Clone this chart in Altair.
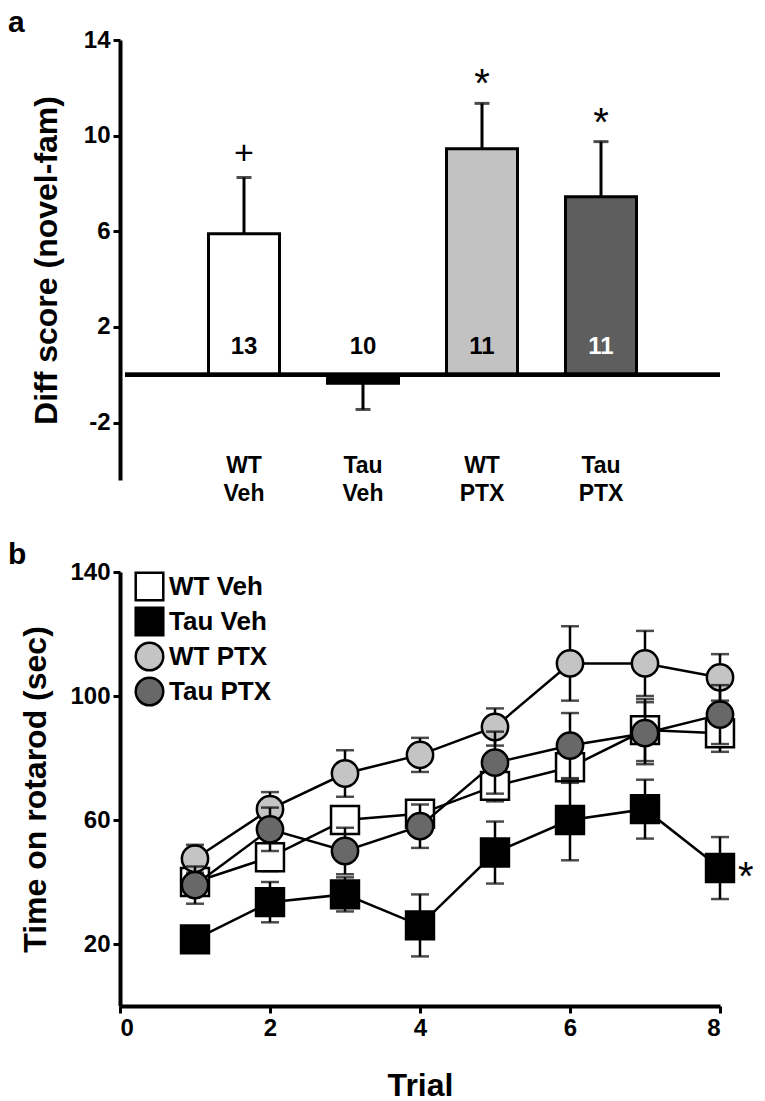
import altair as alt
import pandas as pd

NARROW = "Liberation Sans Narrow, Arial Narrow, Liberation Sans, Arial, sans-serif"
WIDE = "Liberation Sans, Arial, sans-serif"

# ---------------- Panel a data ----------------
groups = ["WT Veh", "Tau Veh", "WT PTX", "Tau PTX"]
group_labels = ["WT\nVeh", "Tau\nVeh", "WT\nPTX", "Tau\nPTX"]
group_pos = [1, 2, 3, 4]
diff_mean = [5.9, -0.35, 9.45, 7.45]
diff_sem = [2.35, 1.1, 1.9, 2.3]
n_animals = ["13", "10", "11", "11"]
signif = ["+", "", "*", "*"]
bar_fill = ["#ffffff", "#000000", "#c2c2c2", "#5e5e5e"]
n_color = ["#000000", "#000000", "#000000", "#ffffff"]

# ---------------- Panel b data ----------------
trials = [1, 2, 3, 4, 5, 6, 7, 8]
series_names = ["WT Veh", "Tau Veh", "WT PTX", "Tau PTX"]
series_fill = ["#ffffff", "#000000", "#c4c4c4", "#686868"]
series_shape = ["square", "square", "circle", "circle"]
wt_veh = [40, 48, 60, 62, 71, 77, 89, 88]
wt_veh_sem = [3, 4.5, 4, 3.5, 5, 5, 10, 6]
tau_veh = [21.5, 33.5, 36, 26, 49.5, 60, 63.5, 44.5]
tau_veh_sem = [2, 6.5, 5.5, 10, 10, 13, 9.5, 10]
wt_ptx = [47.5, 63.5, 75, 81, 90, 110.5, 110.5, 106]
wt_ptx_sem = [4.5, 5.5, 7.5, 5.5, 6, 12, 10.5, 7.5]
tau_ptx = [39, 57, 50, 58, 78.5, 84, 88, 94]
tau_ptx_sem = [6, 7, 7.5, 7, 10, 10.5, 10, 9.5]
final_signif = "*"

# ---------------- Panel a chart ----------------
da = pd.DataFrame({
    "group": groups, "label": group_labels, "pos": group_pos,
    "mean": diff_mean, "sem": diff_sem, "n": n_animals, "sig": signif,
    "fill": bar_fill, "ncolor": n_color,
})
da["err_end"] = [m + s if m >= 0 else m - s for m, s in zip(da["mean"], da["sem"])]
da["sig_y"] = da["err_end"] + 1.0
da["n_y"] = 1.15
da["lab_y"] = -3.35
da["zero"] = 0.0
da["x0"] = 0.0
da["x1"] = 5.0

xa = alt.X("pos:Q", scale=alt.Scale(domain=[0, 5], nice=False), axis=None)
ya_scale = alt.Scale(domain=[-4.4, 14], nice=False, zero=False)
ya_axis = alt.Axis(values=[-2, 2, 6, 10, 14], title="Diff score (novel-fam)", titlePadding=20,
                   labelExpr="toString(datum.value)")

base_a = alt.Chart(da)

err_a = base_a.mark_rule(color="black", strokeWidth=3).encode(
    x=xa, y=alt.Y("mean:Q", scale=ya_scale, axis=ya_axis), y2="err_end:Q")
cap_a = base_a.mark_tick(color="black", thickness=3, size=15, orient="horizontal").encode(
    x=xa, y=alt.Y("err_end:Q", scale=ya_scale, axis=ya_axis))
bars_a = base_a.mark_bar(size=71, stroke="black", strokeWidth=3).encode(
    x=xa,
    y=alt.Y("mean:Q", scale=ya_scale, axis=ya_axis),
    y2="zero:Q",
    fill=alt.Fill("fill:N", scale=None),
)
zero_a = base_a.mark_rule(color="black", strokeWidth=4).encode(
    x=alt.X("x0:Q", scale=alt.Scale(domain=[0, 5], nice=False), axis=None), x2="x1:Q",
    y=alt.Y("zero:Q", scale=ya_scale, axis=ya_axis))
n_a = base_a.mark_text(font=NARROW, fontWeight="bold", fontSize=24, baseline="middle").encode(
    x=xa, y=alt.Y("n_y:Q", scale=ya_scale, axis=ya_axis), text="n:N",
    color=alt.Color("ncolor:N", scale=None))
plus_a = base_a.transform_filter(alt.datum.sig == "+").mark_text(
    font=WIDE, fontSize=34, baseline="middle", color="black").encode(
    x=xa, y=alt.Y("sig_y:Q", scale=ya_scale, axis=ya_axis), text="sig:N")
star_a = base_a.transform_filter(alt.datum.sig == "*").mark_text(
    font=WIDE, fontSize=40, baseline="middle", dy=6, color="black").encode(
    x=xa, y=alt.Y("sig_y:Q", scale=ya_scale, axis=ya_axis), text="sig:N")
lab_a = base_a.mark_text(font=NARROW, fontWeight="bold", fontSize=23, baseline="top",
                         lineBreak="\n", lineHeight=28, color="black").encode(
    x=xa, y=alt.Y("lab_y:Q", scale=ya_scale, axis=ya_axis), text="label:N")

panel_a = alt.layer(err_a, cap_a, bars_a, zero_a, n_a, plus_a, star_a, lab_a).properties(
    width=605, height=440,
    title=alt.TitleParams("a", anchor="start", frame="group", dx=-112, offset=-10,
                          fontSize=30, font=WIDE, fontWeight="bold"),
)

# ---------------- Panel b chart ----------------
means = [wt_veh, tau_veh, wt_ptx, tau_ptx]
sems = [wt_veh_sem, tau_veh_sem, wt_ptx_sem, tau_ptx_sem]
rows = []
for name, m, s in zip(series_names, means, sems):
    for t, v, e in zip(trials, m, s):
        rows.append({"series": name, "trial": t, "value": v, "lo": v - e, "hi": v + e,
                     "sig": final_signif if (name == "Tau Veh" and t == trials[-1]) else ""})
db = pd.DataFrame(rows)

xb = alt.X("trial:Q", scale=alt.Scale(domain=[0, 8], nice=False),
           axis=alt.Axis(values=[0, 2, 4, 6, 8], title="Trial", titlePadding=30))
yb_scale = alt.Scale(domain=[0, 140], nice=False)
yb_axis = alt.Axis(values=[20, 60, 100, 140], title="Time on rotarod (sec)", titlePadding=17)
fill_scale = alt.Scale(domain=series_names, range=series_fill)
shape_scale = alt.Scale(domain=series_names, range=series_shape)
# legend of the vconcat is positioned from the first panel's plot origin
leg = alt.Legend(title=None, orient="none", legendX=14, legendY=531,
                 symbolSize=760, symbolStrokeColor="black",
                 symbolStrokeWidth=2.5, labelFont=NARROW,
                 labelFontWeight="bold", labelFontSize=26,
                 labelColor="black", rowPadding=-7, labelOffset=4)

layers_b = []
for i, name in enumerate(series_names):
    sb = alt.Chart(db).transform_filter(alt.datum.series == name)
    y_lo = alt.Y("lo:Q", scale=yb_scale, axis=yb_axis)
    layers_b.append(sb.mark_rule(color="black", strokeWidth=2.5).encode(
        x=xb, y=y_lo, y2="hi:Q"))
    layers_b.append(sb.mark_tick(color="black", thickness=2.5, size=18, orient="horizontal").encode(
        x=xb, y=y_lo))
    layers_b.append(sb.mark_tick(color="black", thickness=2.5, size=18, orient="horizontal").encode(
        x=xb, y=alt.Y("hi:Q", scale=yb_scale, axis=yb_axis)))
    layers_b.append(sb.mark_line(color="black", strokeWidth=2.5).encode(
        x=xb, y=alt.Y("value:Q", scale=yb_scale, axis=yb_axis)))
    layers_b.append(sb.mark_point(filled=True, opacity=1, stroke="black", strokeWidth=2.5,
                                  size=780 if series_shape[i] == "square" else 690).encode(
        x=xb, y=alt.Y("value:Q", scale=yb_scale, axis=yb_axis),
        fill=alt.Fill("series:N", scale=fill_scale, legend=leg),
        shape=alt.Shape("series:N", scale=shape_scale, legend=None),
    ))

sig_b = alt.Chart(db).mark_text(font=WIDE, fontSize=40, align="left", baseline="middle",
                                dx=18, dy=10, color="black").encode(
    x=xb, y=alt.Y("value:Q", scale=yb_scale, axis=yb_axis), text="sig:N")
layers_b.append(sig_b)

panel_b = alt.layer(*layers_b).properties(
    width=600, height=434,
    title=alt.TitleParams("b", anchor="start", frame="group", dx=-112, offset=-10,
                          fontSize=30, font=WIDE, fontWeight="bold"),
)

chart = alt.vconcat(panel_a, panel_b, spacing=34).properties(padding=0).configure_view(
    strokeWidth=0
).configure_axis(
    domainColor="black", domainWidth=4, tickColor="black", tickWidth=3, tickSize=7,
    labelFont=NARROW, labelFontWeight="bold", labelFontSize=24, labelColor="black",
    labelPadding=3, titleFont=WIDE, titleFontWeight="bold", titleFontSize=32,
    titleColor="black", grid=False,
)

chart.save("out.html", embed_options={"renderer": "svg", "actions": False})
